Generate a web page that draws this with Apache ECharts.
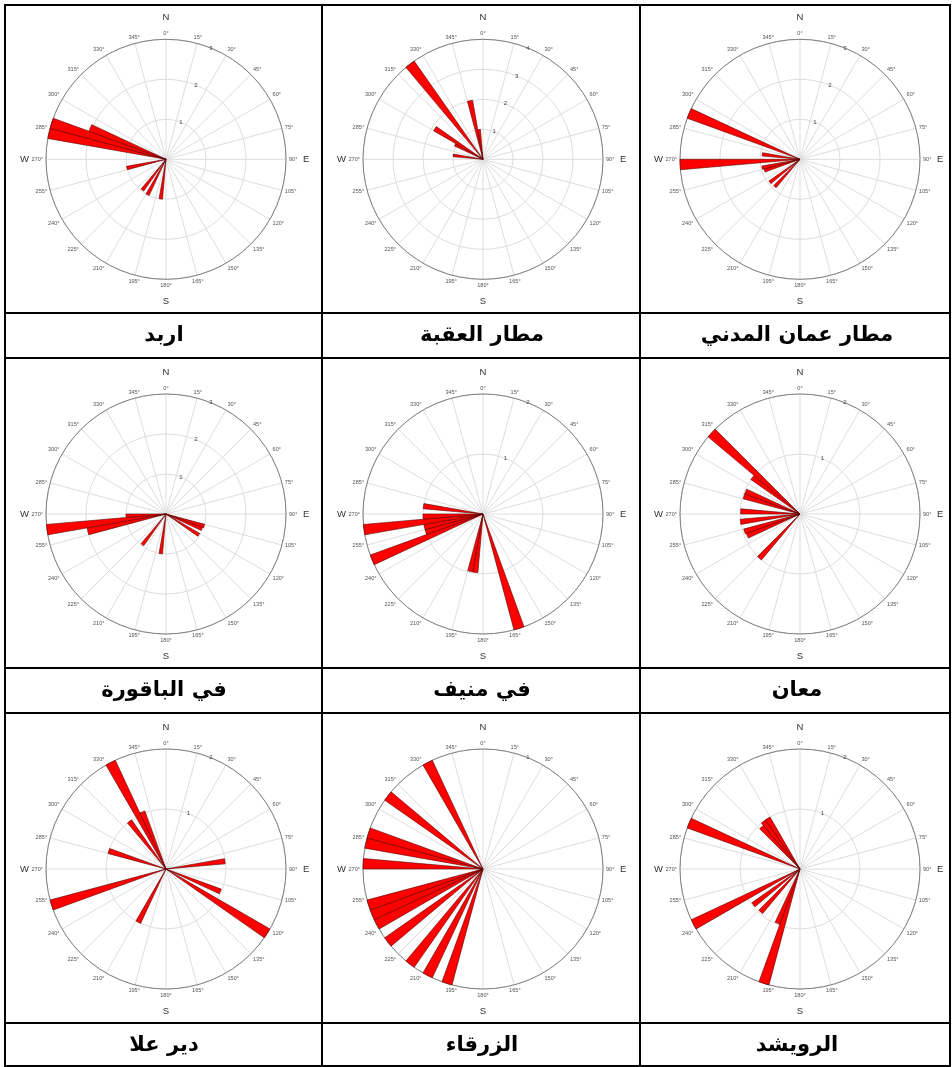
<!DOCTYPE html>
<html>
<head>
<meta charset="utf-8">
<script src="https://cdn.jsdelivr.net/npm/echarts@6/dist/echarts.min.js"></script>
<style>
  html, body { margin: 0; padding: 0; background: #fff; }
  #c { width: 952px; height: 1067px; }
</style>
</head>
<body>
<div id="c"></div>
<script>
// Station names, row by row, left to right
const stationNames = ['اربد', 'مطار العقبة', 'مطار عمان المدني',
                      'في الباقورة', 'في منيف', 'معان',
                      'دير علا', 'الزرقاء', 'الرويشد'];

// Outer ring value of each rose
const radialMax = [3, 4, 3, 3, 2, 2, 2, 1, 2];

// Frequency per 5° direction sector: [sector start in degrees, value]
const irbid     = [[185, 1.0], [205, 1.0], [215, 0.97], [255, 1.0], [280, 3.0], [285, 3.0], [290, 2.05]];
const aqaba     = [[275, 1.0], [295, 1.05], [300, 1.9], [320, 4.0], [345, 2.0], [350, 1.0]];
const amman     = [[220, 0.93], [230, 0.95], [250, 0.93], [255, 0.97], [265, 3.0], [275, 0.95], [290, 3.0]];
const baqoura   = [[105, 1.0], [110, 0.97], [120, 0.97], [185, 1.0], [215, 0.97], [255, 2.0], [260, 3.0], [265, 1.0]];
const monif     = [[160, 2.0], [185, 0.98], [190, 0.98], [245, 2.0], [250, 1.0], [255, 1.0], [260, 2.0], [265, 1.0], [275, 1.0]];
const maan      = [[220, 1.0], [245, 0.95], [250, 0.97], [260, 1.0], [270, 0.99], [285, 0.98], [290, 0.98], [305, 1.0], [310, 2.0]];
const deirAlla  = [[80, 0.99], [110, 0.98], [120, 2.0], [205, 1.0], [250, 2.0], [285, 1.0], [320, 1.0], [330, 2.0], [335, 1.03]];
const zarqa     = [[195, 1], [205, 1], [215, 1], [230, 1], [240, 1], [245, 1], [250, 1], [270, 1], [280, 1], [285, 1], [305, 1], [330, 1]];
const ruwaished = [[195, 2.0], [200, 0.98], [220, 0.97], [230, 0.98], [240, 2.0], [290, 2.0], [315, 0.95], [320, 1.0], [325, 1.0]];

const roses = [irbid, aqaba, amman, baqoura, monif, maan, deirAlla, zarqa, ruwaished];

// Compass letters at 0°, 90°, 180°, 270°
const cardinal = ['N', 'E', 'S', 'W'];

// 72 direction sectors of 5°
const SECTOR = 5;
const sectors = Array.from({ length: 360 / SECTOR }, (_, i) => String(i * SECTOR));

// Page layout: table rules and rose placement
const colLines = [5, 322, 640, 950];
const rowLines = [5, 313, 358, 668, 713, 1023, 1066];
const roseCx = [166, 483, 800];
const roseCy = [159.3, 514, 869];
const labelCx = [164, 482, 797];
const labelCy = [336, 691, 1046];
const R = 120;

function toSectorArray(rose) {
  const arr = sectors.map(() => '-');
  rose.forEach(([dir, val]) => { arr[dir / SECTOR] = val; });
  return arr;
}

const polar = [], angleAxis = [], radiusAxis = [], series = [];

roses.forEach((rose, k) => {
  const center = [roseCx[k % 3], roseCy[Math.floor(k / 3)]];
  const max = radialMax[k];
  const base = polar.length;

  // grid: spokes every 15°, rings every unit, degree labels
  polar.push({ center, radius: R });
  angleAxis.push({
    polarIndex: base, type: 'value', min: 0, max: 360, interval: 15,
    startAngle: 90, clockwise: true, z: 1,
    axisLine: { lineStyle: { color: '#808080', width: 1 } },
    axisTick: { show: false },
    axisLabel: { margin: 3, fontSize: 5.6, color: '#555', fontFamily: 'Liberation Sans',
                 formatter: v => (v >= 360 ? '' : v + '°') },
    splitLine: { show: true, lineStyle: { color: '#dddddd', width: 1 } }
  });
  radiusAxis.push({
    polarIndex: base, type: 'value', min: 0, max, interval: 1, z: 1,
    axisLine: { show: false }, axisTick: { show: false }, axisLabel: { show: false },
    splitLine: { show: true, lineStyle: { color: '#dddddd', width: 1 } }
  });

  // sector bars
  polar.push({ center, radius: R });
  angleAxis.push({ polarIndex: base + 1, type: 'category', data: sectors, boundaryGap: true,
                   startAngle: 90, clockwise: true, show: false });
  radiusAxis.push({ polarIndex: base + 1, type: 'value', min: 0, max, show: false });
  series.push({
    type: 'bar', coordinateSystem: 'polar', polarIndex: base + 1,
    data: toSectorArray(rose), barCategoryGap: '0%', silent: true, z: 3,
    itemStyle: { color: '#ff0000', borderColor: '#5a0000', borderWidth: 0.6 }
  });

  // compass letters
  polar.push({ center, radius: R });
  angleAxis.push({
    polarIndex: base + 2, type: 'value', min: 0, max: 360, interval: 90,
    startAngle: 90, clockwise: true,
    axisLine: { show: false }, axisTick: { show: false }, splitLine: { show: false },
    axisLabel: { margin: 17, fontSize: 9.5, color: '#333', fontFamily: 'Liberation Sans',
                 formatter: v => cardinal[v / 90] || '' }
  });
  radiusAxis.push({ polarIndex: base + 2, type: 'value', min: 0, max, show: false });

  // ring values, along the 22° direction
  polar.push({ center, radius: R });
  angleAxis.push({ polarIndex: base + 3, type: 'value', min: 0, max: 360, startAngle: 68, show: false });
  radiusAxis.push({
    polarIndex: base + 3, type: 'value', min: 0, max, interval: 1, z: 4,
    axisLine: { show: false }, axisTick: { show: false }, splitLine: { show: false },
    axisLabel: { margin: 0, fontSize: 6, color: '#444', fontFamily: 'Liberation Sans',
                 align: 'center', verticalAlign: 'middle',
                 formatter: v => (v === 0 ? '' : String(v)) }
  });
});

// table rules and station names
const graphic = [];
colLines.forEach(x => graphic.push({
  type: 'line', silent: true, z: 10,
  shape: { x1: x, y1: rowLines[0] - 1, x2: x, y2: rowLines[rowLines.length - 1] + 1 },
  style: { stroke: '#000', lineWidth: 2 }
}));
rowLines.forEach(y => graphic.push({
  type: 'line', silent: true, z: 10,
  shape: { x1: colLines[0] - 1, y1: y, x2: colLines[colLines.length - 1] + 1, y2: y },
  style: { stroke: '#000', lineWidth: 2 }
}));
stationNames.forEach((name, k) => graphic.push({
  type: 'text', silent: true, z: 10,
  x: labelCx[k % 3], y: labelCy[Math.floor(k / 3)],
  style: { text: name, fill: '#000', fontSize: 21, fontWeight: 'bold', fontFamily: 'DejaVu Sans',
           align: 'center', verticalAlign: 'middle', textAlign: 'center', textVerticalAlign: 'middle' }
}));

const chart = echarts.init(document.getElementById('c'), null, { renderer: 'canvas' });
chart.setOption({
  animation: false,
  backgroundColor: '#ffffff',
  polar, angleAxis, radiusAxis, series, graphic
});
</script>
</body>
</html>
